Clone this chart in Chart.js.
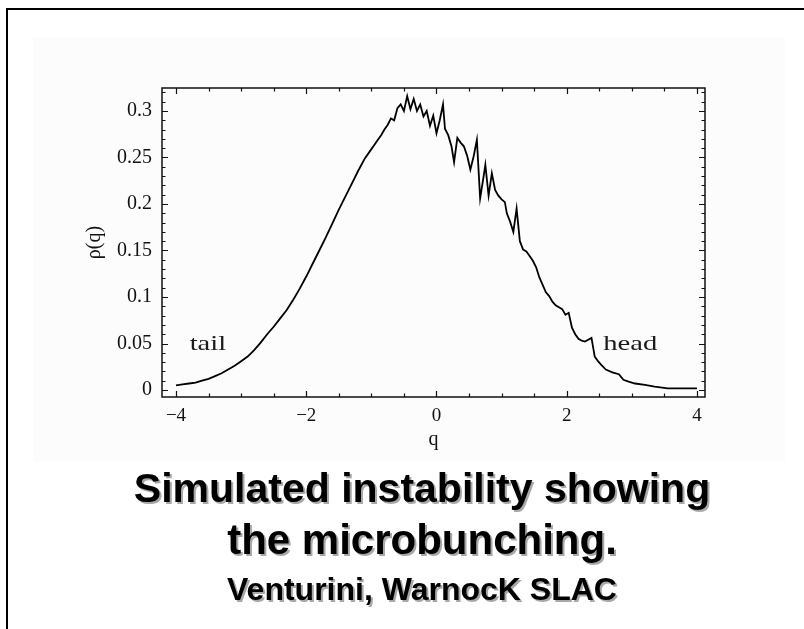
<!DOCTYPE html>
<html><head><meta charset="utf-8">
<script src="https://cdn.jsdelivr.net/npm/chart.js@4/dist/chart.umd.min.js"></script>
<style>
html,body{margin:0;padding:0;background:#fff;width:804px;height:629px;overflow:hidden;position:relative;}
#frameTop{position:absolute;left:6px;top:8px;width:798px;height:2px;background:#000;}
#frameLeft{position:absolute;left:6px;top:8px;width:2px;height:621px;background:#000;}
#panel{position:absolute;left:33px;top:37px;width:752px;height:425px;background:#fcfcfc;}
#wrap{position:absolute;left:0;top:0;width:804px;height:629px;}
.t{position:absolute;left:20px;width:804px;text-align:center;font-family:"Liberation Sans",Arial,sans-serif;font-weight:bold;color:#000;text-shadow:2px 2px 0 #a8a8a8;white-space:nowrap;line-height:1;}
#l1{top:468px;font-size:41px;}
#l2{top:519px;font-size:42px;}
#l3{top:573px;font-size:32px;}
</style></head>
<body>
<div id="panel"></div>
<div id="frameTop"></div>
<div id="frameLeft"></div>
<div id="wrap"><canvas id="c" width="804" height="629"></canvas></div>
<div class="t" id="l1">Simulated instability showing</div>
<div class="t" id="l2">the microbunching.</div>
<div class="t" id="l3">Venturini, WarnocK SLAC</div>
<script>
// ---- data ----
const qValues = [
 -4.0,-3.9,-3.8,-3.7,-3.6,-3.5,-3.4,-3.3,-3.2,-3.1,-3.0,-2.9,-2.8,-2.7,-2.6,-2.5,-2.4,-2.3,-2.2,-2.1,
 -2.0,-1.9,-1.8,-1.7,-1.6,-1.5,-1.4,-1.3,-1.2,-1.1,-1.0,-0.95,-0.9,-0.85,-0.8,-0.75,-0.7,-0.65,-0.6,-0.55,
 -0.5,-0.45,-0.4,-0.35,-0.3,-0.25,-0.2,-0.15,-0.1,-0.05,0.0,0.05,0.1,0.13,0.18,0.23,0.27,0.32,0.37,0.42,
 0.47,0.52,0.57,0.62,0.67,0.72,0.75,0.8,0.85,0.9,0.95,1.0,1.05,1.08,1.13,1.18,1.23,1.28,1.33,1.38,
 1.43,1.48,1.53,1.58,1.63,1.68,1.73,1.78,1.83,1.88,1.93,1.98,2.03,2.08,2.13,2.18,2.23,2.28,2.33,2.38,
 2.43,2.48,2.53,2.6,2.7,2.8,2.87,2.95,3.05,3.2,3.35,3.55,4.0
];
const rhoValues = [
 0.005,0.006,0.007,0.008,0.010,0.012,0.015,0.018,0.022,0.026,0.031,0.036,0.043,0.051,0.060,0.068,0.077,0.086,0.097,0.109,
 0.122,0.136,0.150,0.164,0.179,0.194,0.208,0.222,0.236,0.249,0.259,0.264,0.269,0.274,0.280,0.285,0.292,0.290,0.303,0.307,
 0.300,0.316,0.302,0.313,0.300,0.307,0.294,0.300,0.284,0.295,0.276,0.290,0.307,0.281,0.274,0.262,0.245,0.271,0.266,0.262,
 0.252,0.237,0.251,0.269,0.206,0.228,0.242,0.209,0.233,0.215,0.209,0.205,0.202,0.190,0.181,0.170,0.195,0.160,0.151,0.149,
 0.144,0.139,0.132,0.121,0.113,0.105,0.101,0.095,0.091,0.089,0.087,0.081,0.083,0.067,0.060,0.055,0.053,0.052,0.054,0.056,
 0.036,0.031,0.027,0.022,0.019,0.017,0.011,0.009,0.007,0.0055,0.0036,0.0018,0.0018
];
const xTickValues = [-4, -2, 0, 2, 4];
const xTickLabels = ['\u22124', '\u22122', '0', '2', '4'];
const yTickValues = [0, 0.05, 0.1, 0.15, 0.2, 0.25, 0.3];
const yTickLabels = ['0', '0.05', '0.1', '0.15', '0.2', '0.25', '0.3'];
const xMinorStep = 0.5;
const yMinorStep = 0.01;
const xTitle = 'q';
const yTitle = '\u03C1(q)';
const notes = [
 {text: 'tail', q: -3.79, rho: 0.043},
 {text: 'head', q: 2.56, rho: 0.043}
];

const serif = '"Liberation Serif","Times New Roman",Times,serif';

const framePlugin = {
  id: 'frame',
  afterDraw(chart) {
    const {ctx, chartArea: a, scales: {x, y}} = chart;
    ctx.save();
    ctx.strokeStyle = '#111';
    ctx.lineWidth = 1.5;
    ctx.strokeRect(a.left, a.top, a.right - a.left, a.bottom - a.top);
    ctx.lineWidth = 1.2;
    ctx.beginPath();
    const isMajor = (v, arr) => arr.some(t => Math.abs(t - v) < 1e-6);
    for (let v = Math.ceil(x.min / xMinorStep) * xMinorStep; v <= x.max + 1e-9; v += xMinorStep) {
      const px = Math.round(x.getPixelForValue(v)) + 0.5;
      const len = isMajor(v, xTickValues) ? 6 : 3.5;
      ctx.moveTo(px, a.bottom); ctx.lineTo(px, a.bottom - len);
      ctx.moveTo(px, a.top); ctx.lineTo(px, a.top + len);
    }
    for (let i = Math.ceil(y.min / yMinorStep); i * yMinorStep <= y.max + 1e-9; i++) {
      const v = i * yMinorStep;
      const py = Math.round(y.getPixelForValue(v)) + 0.5;
      const len = isMajor(v, yTickValues) ? 6 : 3.5;
      ctx.moveTo(a.left, py); ctx.lineTo(a.left + len, py);
      ctx.moveTo(a.right, py); ctx.lineTo(a.right - len, py);
    }
    ctx.stroke();
    ctx.fillStyle = '#1a1a1a';
    ctx.font = '22px ' + serif;
    ctx.textBaseline = 'alphabetic';
    notes.forEach(n => {
      const px = x.getPixelForValue(n.q), py = y.getPixelForValue(n.rho);
      ctx.save();
      ctx.translate(px, py);
      ctx.scale(1.3, 1);
      ctx.fillText(n.text, 0, 0);
      ctx.restore();
    });
    ctx.restore();
  }
};

new Chart(document.getElementById('c'), {
  type: 'line',
  data: {
    datasets: [{
      data: qValues.map((q, i) => ({x: q, y: rhoValues[i]})),
      borderColor: '#000',
      borderWidth: 1.8,
      pointRadius: 0,
      stepped: false,
      tension: 0,
      fill: false
    }]
  },
  options: {
    responsive: false,
    animation: false,
    events: [],
    layout: {padding: {left: 85, right: 99, top: 88, bottom: 172}},
    plugins: {legend: {display: false}, tooltip: {enabled: false}},
    scales: {
      x: {
        type: 'linear', min: -4.215, max: 4.123,
        afterBuildTicks: s => { s.ticks = xTickValues.map(v => ({value: v})); },
        afterFit: s => { s.height = 60; },
        grid: {display: false, drawTicks: false},
        border: {display: false},
        ticks: {autoSkip: false, maxRotation: 0, padding: 8, color: '#111',
                font: {family: serif, size: 19},
                callback: (v, i) => xTickLabels[i]},
        title: {display: true, text: xTitle, color: '#111', font: {family: serif, size: 20},
                padding: {top: 0, bottom: 5}}
      },
      y: {
        type: 'linear', min: -0.0075, max: 0.3247,
        afterBuildTicks: s => { s.ticks = yTickValues.map(v => ({value: v})); },
        afterFit: s => { s.width = 77; },
        grid: {display: false, drawTicks: false},
        border: {display: false},
        ticks: {autoSkip: false, padding: 10, color: '#111',
                font: {family: serif, size: 20},
                callback: (v, i) => yTickLabels[i]},
        title: {display: true, text: yTitle, color: '#111', font: {family: serif, size: 20, lineHeight: 1},
                padding: {top: 0, bottom: 0}}
      }
    }
  },
  plugins: [framePlugin]
});
</script>
</body></html>
